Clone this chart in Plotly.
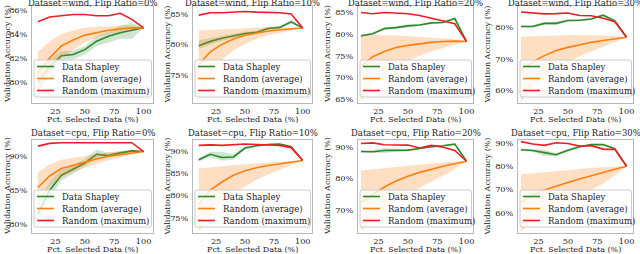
import plotly.graph_objects as go

# ---------------- data ----------------
x_pct = [10, 20, 30, 40, 50, 60, 70, 80, 90, 100]

panel_titles = [
    "Dataset=wind, Flip Ratio=0%", "Dataset=wind, Flip Ratio=10%",
    "Dataset=wind, Flip Ratio=20%", "Dataset=wind, Flip Ratio=30%",
    "Dataset=cpu, Flip Ratio=0%", "Dataset=cpu, Flip Ratio=10%",
    "Dataset=cpu, Flip Ratio=20%", "Dataset=cpu, Flip Ratio=30%",
]

# Data Shapley (mean, low, high)
shap_mean = [
    [80.0, 81.3, 82.2, 82.3, 82.7, 83.4, 83.8, 84.1, 84.3, 84.5],
    [79.8, 80.5, 81.0, 81.4, 81.8, 82.0, 82.6, 82.8, 83.7, 82.7],
    [79.6, 80.1, 81.3, 81.5, 81.9, 82.1, 82.6, 82.7, 83.6, 78.3],
    [80.2, 80.2, 81.2, 81.2, 82.1, 82.2, 82.6, 83.8, 82.0, 76.8],
    [81.5, 85.0, 87.2, 88.1, 89.0, 90.3, 90.1, 90.5, 90.8, 90.7],
    [88.0, 89.2, 88.5, 88.6, 90.6, 91.1, 91.4, 91.5, 90.9, 87.8],
    [88.5, 88.4, 88.8, 88.9, 88.9, 89.4, 90.0, 90.3, 90.8, 85.4],
    [87.0, 86.7, 85.8, 84.9, 86.8, 88.3, 89.2, 89.3, 87.5, 80.0],
]
shap_low = [
    [79.2, 80.6, 81.7, 81.9, 82.3, 83.0, 83.3, 83.6, 83.6, 84.5],
    [79.2, 80.0, 80.6, 81.1, 81.5, 81.8, 82.4, 82.6, 83.4, 82.7],
    [79.4, 79.9, 80.9, 81.2, 81.6, 81.9, 82.4, 82.5, 83.4, 78.3],
    [79.9, 79.9, 80.8, 80.7, 81.8, 81.9, 82.3, 83.5, 81.6, 76.8],
    [79.5, 83.8, 86.4, 87.5, 88.5, 89.6, 89.8, 90.2, 90.6, 90.7],
    [87.6, 88.6, 87.8, 88.0, 90.3, 90.9, 91.2, 91.3, 90.7, 87.8],
    [88.2, 88.0, 88.0, 88.3, 88.6, 89.1, 89.8, 90.1, 90.6, 85.4],
    [86.5, 86.2, 84.3, 84.4, 86.3, 87.9, 88.9, 89.0, 87.2, 80.0],
]
shap_high = [
    [80.9, 81.9, 82.6, 82.6, 83.0, 83.8, 84.2, 84.7, 84.9, 84.5],
    [80.7, 81.1, 81.4, 81.7, 82.1, 82.2, 82.9, 83.0, 84.0, 82.7],
    [79.8, 80.3, 81.6, 81.8, 82.3, 82.3, 82.8, 82.9, 83.8, 78.3],
    [80.5, 80.5, 81.6, 81.7, 82.4, 82.5, 82.9, 84.1, 82.4, 76.8],
    [83.5, 86.2, 88.0, 88.7, 89.6, 91.0, 90.5, 90.8, 91.0, 90.7],
    [88.4, 89.7, 89.8, 89.2, 90.9, 91.3, 91.6, 91.7, 91.1, 87.8],
    [88.8, 88.9, 89.6, 89.5, 89.2, 89.7, 90.2, 90.5, 91.0, 85.4],
    [87.5, 87.2, 87.0, 85.5, 87.3, 88.7, 89.5, 89.6, 87.8, 80.0],
]

# Random (average) with low/high band
rand_avg = [
    [80.8, 82.0, 83.0, 83.5, 83.9, 84.1, 84.3, 84.4, 84.5, 84.5],
    [76.7, 78.8, 80.0, 80.9, 81.5, 81.9, 82.2, 82.4, 82.6, 82.7],
    [72.5, 74.8, 76.0, 76.9, 77.4, 77.8, 78.1, 78.3, 78.4, 78.3],
    [66.5, 69.0, 71.0, 72.6, 73.6, 74.5, 75.2, 75.8, 76.3, 76.8],
    [85.4, 87.1, 88.2, 88.7, 89.2, 89.6, 90.0, 90.2, 90.5, 90.7],
    [78.0, 81.2, 83.0, 84.5, 85.5, 86.2, 86.7, 87.1, 87.5, 87.8],
    [72.5, 75.0, 77.3, 79.2, 80.7, 81.9, 82.9, 83.8, 84.6, 85.4],
    [64.5, 67.5, 69.8, 71.5, 73.0, 74.5, 76.0, 77.3, 78.7, 80.0],
]
rand_low = [
    [79.0, 80.9, 82.0, 82.7, 83.3, 83.7, 84.0, 84.2, 84.4, 84.5],
    [71.0, 75.0, 77.5, 79.0, 80.1, 80.9, 81.5, 81.9, 82.3, 82.7],
    [64.5, 68.5, 71.0, 72.8, 74.0, 75.0, 76.0, 76.8, 77.6, 78.3],
    [56.5, 61.0, 64.5, 67.0, 69.0, 70.8, 72.3, 73.8, 75.3, 76.8],
    [83.0, 85.6, 86.9, 87.7, 88.3, 88.9, 89.4, 89.8, 90.2, 90.7],
    [72.0, 75.5, 78.5, 80.5, 82.0, 83.5, 84.7, 85.7, 86.8, 87.8],
    [63.5, 67.0, 70.5, 73.0, 75.2, 77.2, 79.0, 80.8, 83.0, 85.4],
    [52.0, 56.5, 60.0, 62.5, 65.0, 67.5, 70.0, 72.5, 76.0, 80.0],
]
rand_high = [
    [82.5, 83.4, 84.0, 84.3, 84.5, 84.6, 84.6, 84.7, 84.7, 84.5],
    [82.3, 82.4, 82.5, 82.6, 82.7, 82.8, 82.8, 82.8, 82.8, 82.7],
    [79.8, 79.8, 79.8, 79.7, 79.6, 79.4, 79.2, 79.0, 78.8, 78.3],
    [77.0, 77.2, 77.3, 77.4, 77.5, 77.5, 77.5, 77.4, 77.2, 76.8],
    [87.6, 88.8, 89.5, 89.8, 90.1, 90.4, 90.6, 90.7, 90.8, 90.7],
    [86.0, 86.2, 86.5, 86.8, 87.0, 87.2, 87.4, 87.6, 87.7, 87.8],
    [82.5, 82.8, 83.2, 83.6, 84.0, 84.4, 84.7, 85.0, 85.3, 85.4],
    [76.5, 77.0, 77.5, 78.0, 78.4, 78.8, 79.2, 79.5, 79.8, 80.0],
]

# Random (maximum)
rand_max = [
    [85.0, 85.4, 85.5, 85.6, 85.6, 85.5, 85.5, 85.7, 85.2, 84.5],
    [84.8, 85.2, 85.2, 85.3, 85.4, 85.3, 85.3, 85.2, 85.0, 82.7],
    [85.0, 84.7, 85.0, 84.8, 84.7, 84.3, 83.7, 83.1, 82.4, 78.3],
    [84.8, 84.5, 84.2, 84.3, 84.5, 83.7, 83.6, 82.8, 81.7, 76.8],
    [91.5, 91.9, 92.0, 92.0, 92.0, 92.0, 92.1, 92.1, 92.0, 90.7],
    [91.2, 91.3, 91.2, 91.3, 91.5, 91.4, 91.3, 91.2, 90.7, 87.8],
    [91.0, 91.2, 90.6, 90.6, 90.5, 89.6, 90.4, 89.8, 88.8, 85.4],
    [90.5, 89.5, 88.9, 90.0, 89.7, 88.6, 88.8, 87.3, 87.2, 80.0],
]

y_ranges = [
    [78.3, 86.3], [70.4, 86.3], [64.1, 86.5], [56.0, 86.7],
    [78.7, 92.4], [71.6, 92.4], [62.8, 92.1], [51.4, 91.2],
]
y_ticks = [
    [80, 82, 84, 86], [75, 80, 85], [65, 70, 75, 80, 85], [60, 70, 80],
    [80, 85, 90], [75, 80, 85, 90], [70, 80, 90], [60, 70, 80, 90],
]
x_ticks = [25, 50, 75, 100]
x_ranges_by_col = [[5, 108], [5, 108], [7.5, 105.5], [7.5, 105.5]]

series_names = ["Data Shapley", "Random (average)", "Random (maximum)"]

# ---------------- style ----------------
W, H = 640, 254
FONT = "DejaVu Serif"
TXT = "#222222"
GREEN = "#2a8a2a"
ORANGE = "#ff7f0e"
RED = "#f01c24"
GREEN_FILL = "rgba(42,138,42,0.22)"
ORANGE_FILL = "rgba(255,127,14,0.25)"
SPINE = "#b8b8b8"

col_px = [(32, 153), (193, 312), (358, 473), (518, 633)]
row_px = [(6, 103), (140, 233)]
title_cy = [3.5, 132.5]
ytitle_cx = [7.5, 167, 327.5, 487]


def px2x(p):
    return p / W


def px2y(p):
    return 1 - p / H


fig = go.Figure()
shapes = []
annotations = []

for i in range(8):
    r, c = divmod(i, 4)
    axL, axR = col_px[c]
    axT, axB = row_px[r]
    n = i + 1
    xa = "x" if n == 1 else f"x{n}"
    ya = "y" if n == 1 else f"y{n}"
    xkey = "xaxis" if n == 1 else f"xaxis{n}"
    ykey = "yaxis" if n == 1 else f"yaxis{n}"

    fig.add_trace(go.Scatter(
        x=x_pct + x_pct[::-1], y=shap_high[i] + shap_low[i][::-1],
        fill="toself", fillcolor=GREEN_FILL, line=dict(width=0),
        mode="lines", hoverinfo="skip", showlegend=False, xaxis=xa, yaxis=ya))
    fig.add_trace(go.Scatter(
        x=x_pct, y=shap_mean[i], mode="lines", line=dict(color=GREEN, width=1.6),
        name=series_names[0], showlegend=False, xaxis=xa, yaxis=ya))
    fig.add_trace(go.Scatter(
        x=x_pct + x_pct[::-1], y=rand_high[i] + rand_low[i][::-1],
        fill="toself", fillcolor=ORANGE_FILL, line=dict(width=0),
        mode="lines", hoverinfo="skip", showlegend=False, xaxis=xa, yaxis=ya))
    fig.add_trace(go.Scatter(
        x=x_pct, y=rand_avg[i], mode="lines", line=dict(color=ORANGE, width=1.6),
        name=series_names[1], showlegend=False, xaxis=xa, yaxis=ya))
    fig.add_trace(go.Scatter(
        x=x_pct, y=rand_max[i], mode="lines", line=dict(color=RED, width=1.6),
        name=series_names[2], showlegend=False, xaxis=xa, yaxis=ya))

    fig.layout[xkey] = dict(
        domain=[px2x(axL), px2x(axR)], anchor=ya, range=x_ranges_by_col[c],
        tickvals=x_ticks, ticktext=[str(v) for v in x_ticks],
        ticks="", showgrid=False, zeroline=False, automargin=False,
        showline=True, mirror=True, linecolor=SPINE, linewidth=1,
        tickfont=dict(family=FONT, size=8.2, color=TXT))
    fig.layout[ykey] = dict(
        domain=[px2y(axB), px2y(axT)], anchor=xa, range=y_ranges[i],
        tickvals=y_ticks[i], ticktext=[f"{v}%" for v in y_ticks[i]],
        ticks="", ticklabelstandoff=2, showgrid=False, automargin=False,
        zeroline=False, showline=True, mirror=True, linecolor=SPINE,
        linewidth=1, tickfont=dict(family=FONT, size=8.2, color=TXT))

    cx = (axL + axR) / 2
    annotations.append(dict(
        text=panel_titles[i], x=px2x(cx), y=px2y(title_cy[r]), xref="paper",
        yref="paper", xanchor="center", yanchor="middle", showarrow=False,
        font=dict(family=FONT, size=8.5, color=TXT), borderpad=0))
    annotations.append(dict(
        text="Pct. Selected Data (%)", x=px2x(cx), y=px2y(axB + 16.5),
        xref="paper", yref="paper", xanchor="center", yanchor="middle",
        showarrow=False, font=dict(family=FONT, size=8, color=TXT),
        borderpad=0))
    annotations.append(dict(
        text="Validation Accuracy (%)", x=px2x(ytitle_cx[c]),
        y=px2y((axT + axB) / 2),
        xref="paper", yref="paper", xanchor="center", yanchor="middle",
        textangle=-90, showarrow=False,
        font=dict(family=FONT, size=8, color=TXT), borderpad=0))

    # legend box (drawn manually)
    lx0, lx1 = axL + 2, axR - 1.5
    ly0, ly1 = axB - 43, axB - 6
    rad = 2.0
    X0, X1 = px2x(lx0), px2x(lx1)
    Y0, Y1 = px2y(ly0), px2y(ly1)
    rx, ry = rad / W, rad / H
    path = (f"M {X0+rx},{Y0} L {X1-rx},{Y0} Q {X1},{Y0} {X1},{Y0-ry} "
            f"L {X1},{Y1+ry} Q {X1},{Y1} {X1-rx},{Y1} L {X0+rx},{Y1} "
            f"Q {X0},{Y1} {X0},{Y1+ry} L {X0},{Y0-ry} Q {X0},{Y0} {X0+rx},{Y0} Z")
    shapes.append(dict(type="path", path=path, xref="paper", yref="paper",
                       fillcolor="rgba(255,255,255,0.8)",
                       line=dict(color="#cccccc", width=1), layer="above"))
    for k, (nm, colr) in enumerate(zip(series_names, [GREEN, ORANGE, RED])):
        yy = ly0 + 6.5 + 12 * k
        shapes.append(dict(type="line", xref="paper", yref="paper",
                           x0=px2x(axL + 5), x1=px2x(axL + 22),
                           y0=px2y(yy), y1=px2y(yy),
                           line=dict(color=colr, width=1.6), layer="above"))
        annotations.append(dict(
            text=nm, x=px2x(axL + 29), y=px2y(yy), xref="paper", yref="paper",
            xanchor="left", yanchor="middle", showarrow=False,
            font=dict(family=FONT, size=8.5, color=TXT), borderpad=0))

fig.update_layout(
    width=W, height=H, margin=dict(l=0, r=0, t=0, b=0, autoexpand=False),
    paper_bgcolor="white", plot_bgcolor="white", showlegend=False,
    shapes=shapes, annotations=annotations,
)

fig.write_html(
    "out.html",
    config={"displayModeBar": False},
    post_script="document.body.style.margin='0';"
                "document.documentElement.style.overflow='hidden';",
)
